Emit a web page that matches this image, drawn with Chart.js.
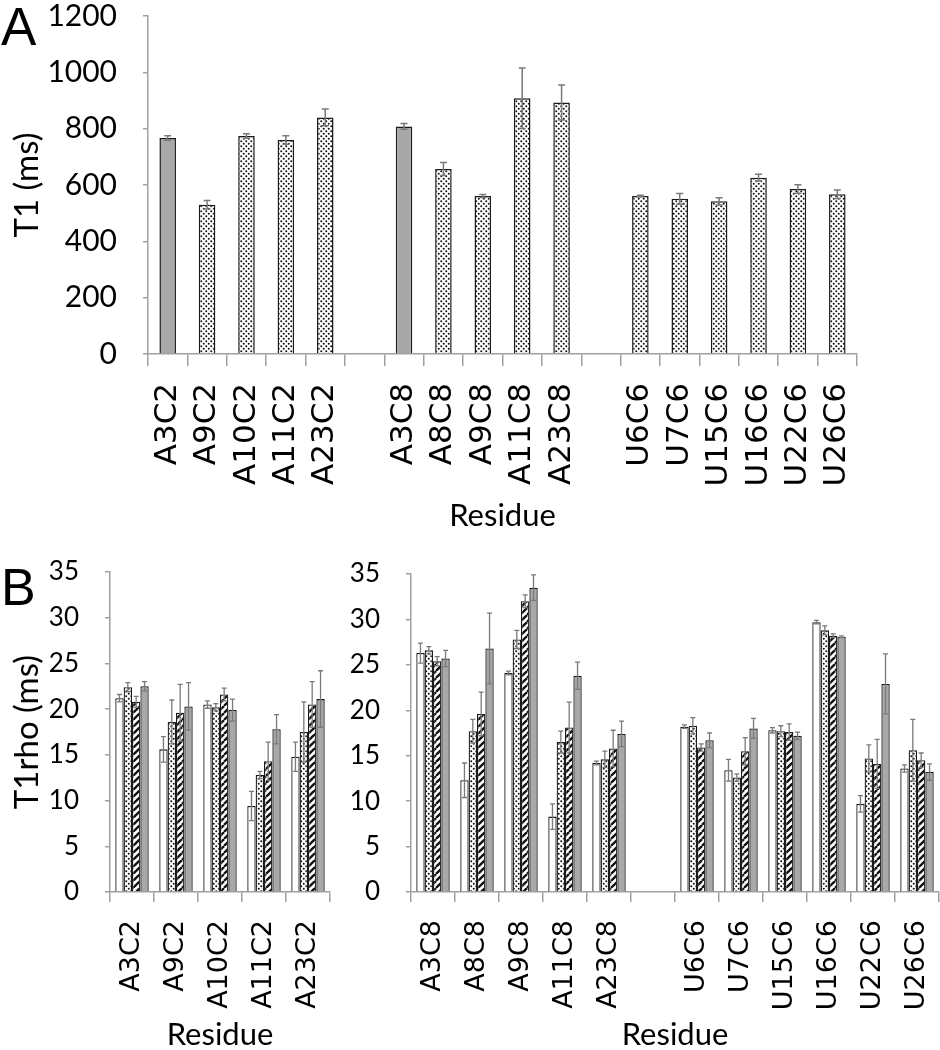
<!DOCTYPE html>
<html>
<head>
<meta charset="utf-8">
<script src="https://cdn.jsdelivr.net/npm/chart.js@4"></script>
<style>
  body { margin: 0; background: #fff; }
  #wrap { position: relative; width: 940px; height: 1050px; overflow: hidden; }
  canvas { position: absolute; }
  .panel { position: absolute; font-family: 'Liberation Sans', Arial, sans-serif; line-height: 1; color: #000; }
</style>
</head>
<body>
<div id="wrap">
  <div class="panel" style="left:1px; top:0px; font-size:53px;">A</div>
  <div class="panel" style="left:1px; top:561px; font-size:52px;">B</div>
  <canvas id="chartA" width="940" height="540" style="left:0; top:0;"></canvas>
  <canvas id="chartBL" width="345" height="505" style="left:0; top:545px;"></canvas>
  <canvas id="chartBR" width="595" height="505" style="left:345px; top:545px;"></canvas>
</div>
<script>
// T1 data (panel A)
const t1Labels = ['A3C2', 'A9C2', 'A10C2', 'A11C2', 'A23C2', '',
  'A3C8', 'A8C8', 'A9C8', 'A11C8', 'A23C8', '',
  'U6C6', 'U7C6', 'U15C6', 'U16C6', 'U22C6', 'U26C6']
const t1Values = [767, 530, 774, 760, 840, null, 808, 657, 561, 908, 893, null, 561, 551, 542, 626, 586, 567]
const t1Errors = [8, 15, 8, 15, 30, null, 10, 23, 5, 107, 62, null, 3, 19, 13, 12, 15, 15]
const t1GrayBars = ['A3C2', 'A3C8']
const t1Ticks = [0, 200, 400, 600, 800, 1000, 1200]

// T1rho data (panel B), four series per residue
const rhoLeftLabels = ['A3C2', 'A9C2', 'A10C2', 'A11C2', 'A23C2']
const rhoLeft1 = [21.2, 15.6, 20.5, 9.4, 14.8]
const rhoLeft1Err = [0.4, 1.4, 0.4, 1.6, 1.6]
const rhoLeft2 = [22.4, 18.6, 20.2, 12.8, 17.5]
const rhoLeft2Err = [0.5, 2.4, 0.4, 0.4, 3.3]
const rhoLeft3 = [20.8, 19.6, 21.6, 14.3, 20.5]
const rhoLeft3Err = [0.6, 3.1, 0.7, 2.1, 2.5]
const rhoLeft4 = [22.5, 20.3, 19.9, 17.8, 21.1]
const rhoLeft4Err = [0.5, 2.6, 1.2, 1.6, 3.1]

const rhoRightLabels = ['A3C8', 'A8C8', 'A9C8', 'A11C8', 'A23C8', '',
  'U6C6', 'U7C6', 'U15C6', 'U16C6', 'U22C6', 'U26C6']
const rhoRight1 = [26.3, 12.3, 24.1, 8.3, 14.2, null, 18.2, 13.4, 17.8, 29.7, 9.7, 13.6]
const rhoRight1Err = [1.1, 1.9, 0.2, 1.4, 0.2, null, 0.2, 1.2, 0.3, 0.2, 0.9, 0.4]
const rhoRight2 = [26.6, 17.7, 27.8, 16.5, 14.6, null, 18.3, 12.6, 17.7, 28.8, 14.7, 15.6]
const rhoRight2Err = [0.4, 1.3, 1.0, 1.2, 0.9, null, 0.9, 0.4, 0.6, 0.5, 1.5, 3.4]
const rhoRight3 = [25.4, 19.6, 32.0, 18.1, 15.8, null, 15.9, 15.5, 17.6, 28.2, 14.1, 14.5]
const rhoRight3Err = [0.5, 2.4, 0.7, 2.8, 2.0, null, 0.4, 1.5, 0.9, 0.2, 2.7, 0.8]
const rhoRight4 = [25.7, 26.8, 33.5, 23.8, 17.4, null, 16.7, 18.0, 17.2, 28.1, 22.9, 13.2]
const rhoRight4Err = [0.9, 3.9, 1.4, 1.5, 1.4, null, 0.8, 1.1, 0.4, 0.1, 3.3, 0.9]

const AXIS = '#a0a0a0'
const GRAY = '#a8a8a8'
const EDGE = '#1a1a1a'
const SANS = "Lato, 'Open Sans', sans-serif"

// fill patterns
function makeDots() {
  const s = 5
  const c = document.createElement('canvas')
  c.width = s
  c.height = s
  const g = c.getContext('2d')
  g.fillStyle = '#fff'
  g.fillRect(0, 0, s, s)
  g.fillStyle = '#111'
  ;[[1.25, 1.25], [3.75, 3.75]].forEach(function (p) {
    g.beginPath()
    g.arc(p[0], p[1], 1, 0, Math.PI * 2)
    g.fill()
  })
  return g.createPattern(c, 'repeat')
}

function makeHatch() {
  const s = 7
  const c = document.createElement('canvas')
  c.width = s
  c.height = s
  const g = c.getContext('2d')
  g.fillStyle = '#fff'
  g.fillRect(0, 0, s, s)
  g.strokeStyle = '#111'
  g.lineWidth = 2.3
  ;[-s, 0, s].forEach(function (k) {
    g.beginPath()
    g.moveTo(k, s)
    g.lineTo(k + s, 0)
    g.stroke()
  })
  return g.createPattern(c, 'repeat')
}

const dots = makeDots()
const hatch = makeHatch()

// error bars, drawn on top of the bars
const errorBars = {
  id: 'errorBars',
  afterDatasetsDraw(chart, args, opts) {
    const ctx = chart.ctx
    const y = chart.scales.y
    ctx.save()
    ctx.strokeStyle = opts.color
    ctx.lineWidth = opts.width
    chart.data.datasets.forEach(function (ds, i) {
      const meta = chart.getDatasetMeta(i)
      meta.data.forEach(function (bar, j) {
        const v = ds.data[j]
        const e = ds.errors[j]
        if (v == null || e == null) return
        const top = y.getPixelForValue(v + e)
        const bot = y.getPixelForValue(v - e)
        ctx.beginPath()
        ctx.moveTo(bar.x, top)
        ctx.lineTo(bar.x, bot)
        ctx.moveTo(bar.x - opts.cap, top)
        ctx.lineTo(bar.x + opts.cap, top)
        ctx.moveTo(bar.x - opts.cap, bot)
        ctx.lineTo(bar.x + opts.cap, bot)
        ctx.stroke()
      })
    })
    ctx.restore()
  }
}

function xScale(tickLen, pad, fontSize, titleOpts, height) {
  return {
    grid: { display: true, drawOnChartArea: false, drawTicks: true, tickLength: tickLen, color: AXIS, lineWidth: 1.5, offset: true },
    border: { display: true, color: AXIS, width: 1.5 },
    ticks: { autoSkip: false, minRotation: 90, maxRotation: 90, padding: pad, color: '#000', font: { family: 'DejaVu Sans', size: fontSize } },
    title: titleOpts,
    afterFit: function (s) {
      s.height = height
      s.paddingLeft = 0
      s.paddingRight = 0
    }
  }
}

function yScale(max, step, fontSize, titleOpts, width) {
  return {
    min: 0,
    max: max,
    ticks: {
      stepSize: step,
      padding: 26,
      color: '#000',
      font: { family: SANS, size: fontSize, lineHeight: 1 },
      callback: function (v) { return String(v) }
    },
    grid: { drawOnChartArea: false, drawTicks: true, tickLength: 5, color: AXIS, lineWidth: 1.5 },
    border: { display: true, color: AXIS, width: 1.5 },
    title: titleOpts,
    afterFit: function (s) {
      s.width = width
      // keep the plot top/bottom where the layout padding puts them
      s.paddingTop = 0
      s.paddingBottom = 0
    }
  }
}

function yTitle(text) {
  return { display: true, text: text, color: '#000', font: { family: SANS, size: 33, lineHeight: 1 }, padding: { top: 11, bottom: 0 } }
}

const residueA = { display: true, text: 'Residue', color: '#000', font: { family: SANS, size: 31, lineHeight: 1.2 }, padding: { top: 0, bottom: 5 } }
const residueB = { display: true, text: 'Residue', color: '#000', font: { family: SANS, size: 31, lineHeight: 1 }, padding: { top: 0, bottom: 0 } }

// panel A
new Chart(document.getElementById('chartA'), {
  type: 'bar',
  data: {
    labels: t1Labels,
    datasets: [{
      data: t1Values,
      errors: t1Errors,
      backgroundColor: t1Labels.map(function (l) { return t1GrayBars.includes(l) ? GRAY : dots }),
      borderColor: EDGE,
      borderWidth: 1.5,
      barPercentage: 0.42,
      categoryPercentage: 1
    }]
  },
  options: {
    responsive: false,
    animation: false,
    layout: { padding: { top: 16, right: 83, bottom: 0, left: 0 } },
    plugins: { legend: { display: false }, tooltip: { enabled: false }, errorBars: { color: '#7a7a7a', width: 1.5, cap: 3.5 } },
    scales: {
      x: xScale(12, 17, 31, residueA, 186),
      y: yScale(t1Ticks[t1Ticks.length - 1], t1Ticks[1] - t1Ticks[0], 30, yTitle('T1 (ms)'), 148)
    }
  },
  plugins: [errorBars]
})

function rhoDatasets(series, errs) {
  const fills = ['#fff', dots, hatch, GRAY]
  return series.map(function (s, i) {
    return {
      data: s,
      errors: errs[i],
      backgroundColor: fills[i],
      borderColor: EDGE,
      borderWidth: 1.3,
      barPercentage: 1,
      categoryPercentage: 0.76
    }
  })
}

// panel B, left
new Chart(document.getElementById('chartBL'), {
  type: 'bar',
  data: {
    labels: rhoLeftLabels,
    datasets: rhoDatasets([rhoLeft1, rhoLeft2, rhoLeft3, rhoLeft4], [rhoLeft1Err, rhoLeft2Err, rhoLeft3Err, rhoLeft4Err])
  },
  options: {
    responsive: false,
    animation: false,
    layout: { padding: { top: 27, right: 15, bottom: 0, left: 0 } },
    plugins: { legend: { display: false }, tooltip: { enabled: false }, errorBars: { color: '#7a7a7a', width: 1.3, cap: 2.5 } },
    scales: {
      x: xScale(10, 18, 27, residueB, 158),
      y: yScale(35, 5, 26, yTitle('T1rho (ms)'), 110)
    }
  },
  plugins: [errorBars]
})

// panel B, right
new Chart(document.getElementById('chartBR'), {
  type: 'bar',
  data: {
    labels: rhoRightLabels,
    datasets: rhoDatasets([rhoRight1, rhoRight2, rhoRight3, rhoRight4], [rhoRight1Err, rhoRight2Err, rhoRight3Err, rhoRight4Err])
  },
  options: {
    responsive: false,
    animation: false,
    layout: { padding: { top: 29, right: 1, bottom: 0, left: 0 } },
    plugins: { legend: { display: false }, tooltip: { enabled: false }, errorBars: { color: '#7a7a7a', width: 1.3, cap: 2.5 } },
    scales: {
      x: xScale(10, 18, 27, residueB, 158),
      y: yScale(35, 5, 26, { display: false }, 66)
    }
  },
  plugins: [errorBars]
})
</script>
</body>
</html>
